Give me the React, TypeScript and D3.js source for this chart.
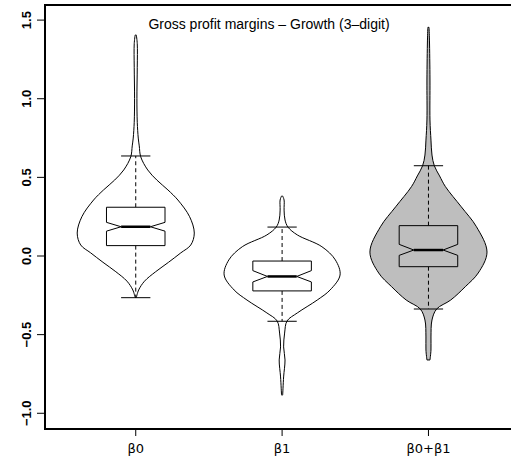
import React from "react";
import * as d3 from "d3";

const categories = ["β0", "β1", "β0+β1"];
const yTicks = [-1.0, -0.5, 0.0, 0.5, 1.0, 1.5];
const title = "Gross profit margins \u2013 Growth (3\u2013digit)";

// density outlines: value positions and relative half-widths
const v1Values = [1.405, 1.35, 1.2, 1.0, 0.85, 0.75, 0.70, 0.631, 0.547, 0.483, 0.420, 0.356, 0.250, 0.146, 0.070, 0.02, -0.04, -0.10, -0.16, -0.216, -0.264];
const v1Dens = [0.01, 0.026, 0.026, 0.02, 0.026, 0.043, 0.06, 0.085, 0.205, 0.36, 0.55, 0.72, 0.92, 1.0, 0.94, 0.77, 0.56, 0.34, 0.15, 0.05, 0.01];
const v2Values = [0.381, 0.356, 0.292, 0.229, 0.184, 0.134, 0.059, -0.025, -0.121, -0.216, -0.280, -0.362, -0.413, -0.490, -0.578, -0.661, -0.769, -0.884];
const v2Dens = [0.01, 0.034, 0.034, 0.05, 0.10, 0.26, 0.68, 0.91, 0.99, 0.82, 0.6, 0.26, 0.085, 0.043, 0.026, 0.05, 0.026, 0.01];
const v3Values = [1.454, 1.373, 1.119, 0.865, 0.737, 0.642, 0.574, 0.509, 0.441, 0.313, 0.186, 0.025, -0.108, -0.195, -0.280, -0.337, -0.407, -0.515, -0.598, -0.661];
const v3Dens = [0.01, 0.017, 0.026, 0.026, 0.043, 0.06, 0.10, 0.19, 0.29, 0.56, 0.82, 1.0, 0.85, 0.63, 0.38, 0.14, 0.06, 0.043, 0.043, 0.026];

// box statistics
const q1 = [0.066, -0.222, -0.068];
const medians = [0.186, -0.130, 0.038];
const q3 = [0.310, -0.032, 0.193];
const whiskLo = [-0.265, -0.415, -0.337];
const whiskHi = [0.636, 0.184, 0.574];
const notchLo = [0.158, -0.165, 0.004];
const notchHi = [0.214, -0.093, 0.074];
const fills = ["#ffffff", "#ffffff", "#bebebe"];

const W = 511, H = 464;
const left = 45, top = 5, bottom = 429;

export default function App() {
  const x = d3.scaleLinear().domain([0.38, 3.62]).range([left, 519.2]);
  const y = d3.scaleLinear().domain([-1.1, 1.596]).range([bottom, top]);
  const unit = x(2) - x(1);
  const wScale = d3.scaleLinear().domain([0, 1]).range([0, 0.4 * unit]);
  const boxHalf = 0.2 * unit;
  const capHalf = 0.1 * unit;

  const violins = [
    { vals: v1Values, dens: v1Dens },
    { vals: v2Values, dens: v2Dens },
    { vals: v3Values, dens: v3Dens },
  ];

  const font = "'Liberation Sans', Arial, Helvetica, sans-serif";

  return (
    <div style={{ position: "absolute", left: 0, top: 0 }}>
      <svg width={W} height={H} style={{ display: "block" }}>
        <rect width={W} height={H} fill="#fff" />
        {violins.map((v, i) => {
          const cx = x(i + 1);
          const pts = v.vals.map((val, k) => ({ v: val, d: v.dens[k] }));
          const area = d3
            .area<{ v: number; d: number }>()
            .y((p) => y(p.v))
            .x0((p) => cx - wScale(p.d))
            .x1((p) => cx + wScale(p.d))
            .curve(d3.curveCatmullRom.alpha(0.5));
          const lo = notchLo[i], hi = notchHi[i];
          const poly = [
            [cx - boxHalf, y(q1[i])],
            [cx - boxHalf, y(lo)],
            [cx - boxHalf / 2, y(medians[i])],
            [cx - boxHalf, y(hi)],
            [cx - boxHalf, y(q3[i])],
            [cx + boxHalf, y(q3[i])],
            [cx + boxHalf, y(hi)],
            [cx + boxHalf / 2, y(medians[i])],
            [cx + boxHalf, y(lo)],
            [cx + boxHalf, y(q1[i])],
          ];
          return (
            <g key={i}>
              <path d={area(pts) || ""} fill={fills[i]} stroke="#000" strokeWidth={1} />
              <line x1={cx} x2={cx} y1={y(q3[i])} y2={y(whiskHi[i])} stroke="#000" strokeDasharray="4,3" />
              <line x1={cx} x2={cx} y1={y(q1[i])} y2={y(whiskLo[i])} stroke="#000" strokeDasharray="4,3" />
              <line x1={cx - capHalf} x2={cx + capHalf} y1={y(whiskHi[i])} y2={y(whiskHi[i])} stroke="#000" />
              <line x1={cx - capHalf} x2={cx + capHalf} y1={y(whiskLo[i])} y2={y(whiskLo[i])} stroke="#000" />
              <polygon points={poly.map((p) => p.join(",")).join(" ")} fill={fills[i]} stroke="#000" strokeWidth={1} />
              <line x1={cx - boxHalf / 2} x2={cx + boxHalf / 2} y1={y(medians[i])} y2={y(medians[i])} stroke="#000" strokeWidth={2.5} />
            </g>
          );
        })}
        <text x={269} y={29} textAnchor="middle" fontFamily={font} fontSize={14}>
          {title}
        </text>
        <rect x={left} y={top} width={530} height={bottom - top} fill="none" stroke="#000" strokeWidth={2} />
        {yTicks.map((t) => (
          <g key={t} transform={`translate(${left},${y(t)})`}>
            <line x1={0} x2={-8} stroke="#000" strokeWidth={1} />
            <text
              transform="translate(-19,0) rotate(-90)"
              textAnchor="middle"
              dy="0.36em"
              fontFamily={font}
              fontSize={13}
              fontWeight="bold"
            >
              {t < 0 ? "\u2212" + Math.abs(t).toFixed(1) : t.toFixed(1)}
            </text>
          </g>
        ))}
        {categories.map((c, i) => (
          <g key={c} transform={`translate(${x(i + 1)},${bottom})`}>
            <line y1={0} y2={7} stroke="#000" />
            <text y={24} textAnchor="middle" fontFamily="'DejaVu Sans', sans-serif" fontSize={13}>
              {c}
            </text>
          </g>
        ))}
      </svg>
    </div>
  );
}
